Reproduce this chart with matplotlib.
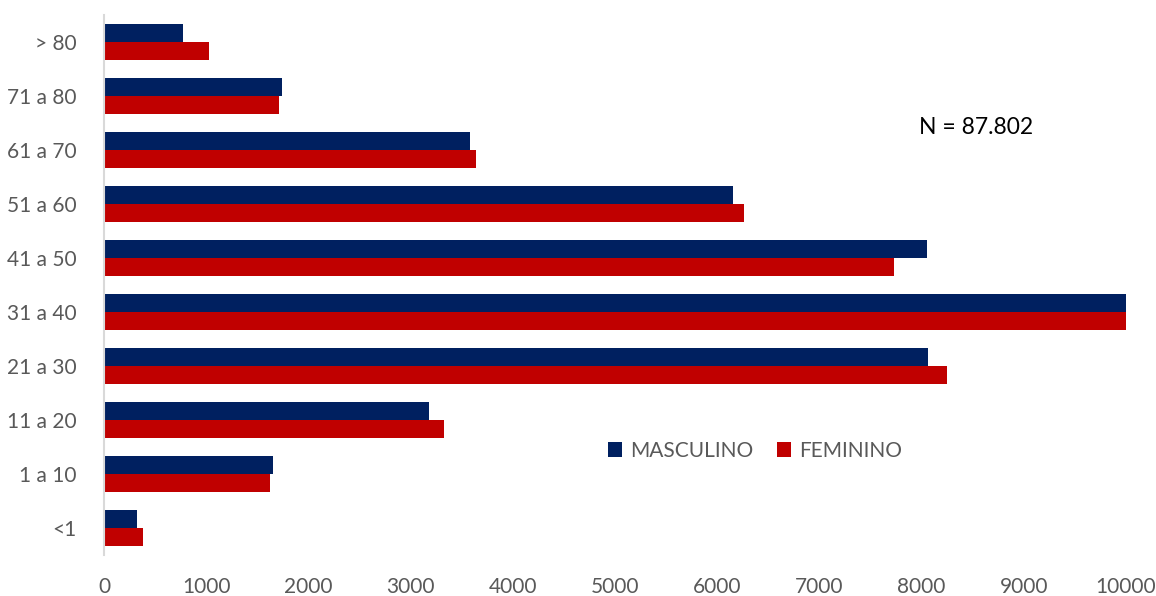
import numpy as np
import matplotlib.pyplot as plt

# faixas etárias (de baixo para cima)
faixas = ['<1', '1 a 10', '11 a 20', '21 a 30', '31 a 40',
          '41 a 50', '51 a 60', '61 a 70', '71 a 80', '> 80']
masculino = [320, 1655, 3180, 8065, 10150, 8055, 6155, 3580, 1738, 775]
feminino = [380, 1620, 3325, 8250, 10235, 7730, 6260, 3640, 1708, 1027]

azul = '#002060'
vermelho = '#C00000'
cinza = '#595959'

plt.rcParams['font.family'] = ['Lato', 'DejaVu Sans']

fig = plt.figure(figsize=(11.56, 5.96), dpi=100)
ax = fig.add_axes([104 / 1156, 41 / 596, 1022 / 1156, 540 / 596])

y = np.arange(len(faixas))
h = 1 / 3
ax.barh(y + h / 2, masculino, height=h, color=azul, label='MASCULINO')
ax.barh(y - h / 2, feminino, height=h, color=vermelho, label='FEMININO')

ax.set_xlim(0, 10000)
ax.set_ylim(-0.5, len(faixas) - 0.5)
ax.set_xticks(range(0, 10001, 1000))
ax.set_yticks(y)
ax.set_yticklabels(faixas)
ax.tick_params(length=0, labelsize=15, labelcolor=cinza)
ax.tick_params(axis='y', pad=20)
ax.tick_params(axis='x', pad=16)

for s in ['top', 'right', 'bottom']:
    ax.spines[s].set_visible(False)
ax.spines['left'].set_color('#D9D9D9')
ax.spines['left'].set_linewidth(1.5)

ax.text(0.797, 0.791, 'N = 87.802', transform=ax.transAxes,
        fontsize=16.5, color='black', ha='left', va='center')

ax.legend(loc='center', bbox_to_anchor=(0.637, 0.193), ncol=2, frameon=False,
          fontsize=15, labelcolor=cinza, handlelength=0.7, handleheight=0.7,
          handletextpad=0.4, columnspacing=1.1)

fig.savefig('out.png', dpi=100)
